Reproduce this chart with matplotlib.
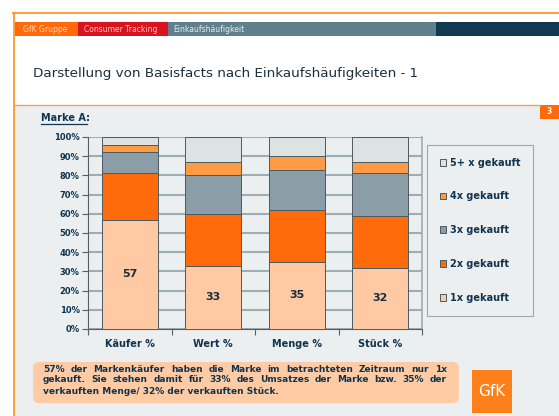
import numpy as np
import matplotlib.pyplot as plt
from matplotlib.patches import Rectangle, FancyBboxPatch
from matplotlib.lines import Line2D

W, H = 559, 416

categories = ["Käufer %", "Wert %", "Menge %", "Stück %"]
series_names = ["1x gekauft", "2x gekauft", "3x gekauft", "4x gekauft", "5+ x gekauft"]
val_1x = [57, 33, 35, 32]
val_2x = [24, 27, 27, 27]
val_3x = [11, 20, 21, 22]
val_4x = [4, 7, 7, 6]
val_5x = [4, 13, 10, 13]
series_values = [val_1x, val_2x, val_3x, val_4x, val_5x]
colors = ["#ffc9a3", "#ff6a0a", "#8b9ea7", "#ff9a45", "#dde2e2"]
y_ticks = list(range(0, 101, 10))

NAVY = "#10344f"
BG = "#eceff0"


def fx(x):
    return x / W


def fy(y):
    return 1 - y / H


def frect(fig, x0, y0, x1, y1, color, z=-5):
    """Rechteck in Pixelkoordinaten (oben links Ursprung)"""
    r = Rectangle((fx(x0), fy(y1)), fx(x1) - fx(x0), fy(y0) - fy(y1),
                  transform=fig.transFigure, facecolor=color, edgecolor="none", zorder=z)
    fig.patches.append(r)
    return r


fig = plt.figure(figsize=(W / 100, H / 100), dpi=100)
fig.patch.set_facecolor("white")

# Hintergrund der Folie
frect(fig, 14, 105, W, H, BG)
# orange Rahmenlinien
fig.lines.append(Line2D([fx(13), 1], [fy(13), fy(13)], transform=fig.transFigure,
                        color="#ff8c1a", lw=1.2))
fig.lines.append(Line2D([fx(13.5), fx(13.5)], [fy(13), 0], transform=fig.transFigure,
                        color="#ff8c1a", lw=1.2))
fig.lines.append(Line2D([fx(14), fx(540)], [fy(104.5), fy(104.5)], transform=fig.transFigure,
                        color="#f4a060", lw=1.0))

# Kopfzeile
frect(fig, 15, 22, 78, 36, "#ff6a0a")
frect(fig, 78, 22, 168, 36, "#d8141e")
frect(fig, 168, 22, 436, 36, "#5f7f8c")
frect(fig, 436, 22, W, 36, "#0f3a52")
fig.text(fx(23), fy(29.5), "GfK Gruppe", fontsize=5.5, color="#ffd9bf", va="center")
fig.text(fx(84), fy(29.5), "Consumer Tracking", fontsize=5.5, color="#ffc9c9", va="center")
fig.text(fx(173), fy(29.5), "Einkaufshäufigkeit", fontsize=5.5, color="#e6eef0", va="center")

# Titel
fig.text(fx(33), fy(74), "Darstellung von Basisfacts nach Einkaufshäufigkeiten - 1",
         fontsize=9.7, color="#1c2e3c", va="center")

# Seitennummer
frect(fig, 540, 105, W, 119, "#ff6a0a")
fig.text(fx(549.5), fy(112), "3", fontsize=5.5, color="white", fontweight="bold",
         ha="center", va="center")

# Marke A
fig.text(fx(41), fy(118), "Marke A:", fontsize=7, color=NAVY, fontweight="bold",
         va="center")
fig.lines.append(Line2D([fx(41), fx(87)], [fy(123.5), fy(123.5)], transform=fig.transFigure,
                        color=NAVY, lw=0.9))

# Diagramm
ax = fig.add_axes([fx(88), fy(329), fx(422) - fx(88), fy(137) - fy(329)])
ax.set_zorder(2)
ax.set_facecolor(BG)
x = np.arange(len(categories))
bottom = np.zeros(len(categories))
handles = []
for name, vals, col in zip(series_names, series_values, colors):
    b = ax.bar(x, vals, width=0.67, bottom=bottom, color=col, edgecolor="#4a5a60",
               linewidth=0.7, label=name, zorder=3)
    handles.append(b)
    bottom += np.array(vals)

for v in y_ticks:
    ax.axhline(v, color="#9cadb5", lw=1.5, zorder=1)

for i, v in enumerate(val_1x):
    ax.text(x[i], v / 2, str(v), ha="center", va="center", fontsize=8,
            fontweight="bold", color="#1c2e3c", zorder=4)

ax.set_xlim(-0.5, len(categories) - 0.5)
ax.set_ylim(0, 100)
ax.set_yticks(y_ticks)
ax.set_yticklabels([f"{v}%" for v in y_ticks], fontsize=6, fontweight="bold", color=NAVY)
ax.set_xticks(x)
ax.set_xticklabels(categories, fontsize=7, fontweight="bold", color=NAVY)
ax.tick_params(axis="x", length=0, pad=7)
ax.set_xticks(np.arange(-0.5, len(categories), 1.0), minor=True)
ax.tick_params(axis="x", which="minor", length=4, color="#555f66", width=0.8)
ax.tick_params(axis="y", length=4, color="#555f66", width=0.8, pad=2)
ax.spines["top"].set_visible(False)
ax.spines["right"].set_color("#9cadb5")
ax.spines["right"].set_linewidth(1.2)
for s in ("left", "bottom"):
    ax.spines[s].set_color("#555f66")
    ax.spines[s].set_linewidth(0.8)

leg = fig.legend(handles[::-1], series_names[::-1], loc="upper left",
                 bbox_to_anchor=(fx(427), fy(145)), bbox_transform=fig.transFigure,
                 frameon=True, fancybox=False, facecolor=BG, edgecolor="#8a969c",
                 handlelength=0.7, handleheight=0.7, handletextpad=0.4,
                 labelspacing=2.45, borderpad=1.3, borderaxespad=0,
                 prop={"size": 7, "weight": "bold"})
for t in leg.get_texts():
    t.set_color(NAVY)
leg.get_frame().set_linewidth(0.8)

# Textkasten
box = FancyBboxPatch((fx(36), fy(401)), fx(456) - fx(36), fy(364) - fy(401),
                     boxstyle="round,pad=0.005,rounding_size=0.012",
                     transform=fig.transFigure, facecolor="#ffcba4", edgecolor="none")
fig.patches.append(box)

lines = [
    "57% der Markenkäufer haben die Marke im betrachteten Zeitraum nur 1x",
    "gekauft. Sie stehen damit für 33% des Umsatzes der Marke bzw. 35% der",
    "verkauften Menge/ 32% der verkauften Stück.",
]
line_y = [369, 380, 391]
x_left, x_right = 43, 447
fs_box = 6.5
fig.canvas.draw()
renderer = fig.canvas.get_renderer()
for k, (line, yy) in enumerate(zip(lines, line_y)):
    words = line.split(" ")
    if k == len(lines) - 1:
        fig.text(fx(x_left), fy(yy), line, fontsize=fs_box, fontweight="bold",
                 color=NAVY, va="center")
        continue
    # Blocksatz: Wörter gleichmäßig verteilen
    objs = [fig.text(0, fy(yy), w, fontsize=fs_box, fontweight="bold", color=NAVY,
                     va="center") for w in words]
    widths = [o.get_window_extent(renderer).width for o in objs]
    gap = (x_right - x_left - sum(widths)) / (len(words) - 1)
    pos = x_left
    for o, w in zip(objs, widths):
        o.set_x(fx(pos))
        pos += w + gap

# GfK Logo
frect(fig, 472, 370, 512, 413, "#ff7f1a")
fig.text(fx(492), fy(391.5), "GfK", fontsize=11, color="white", ha="center", va="center")

fig.savefig("out.png", dpi=100)
